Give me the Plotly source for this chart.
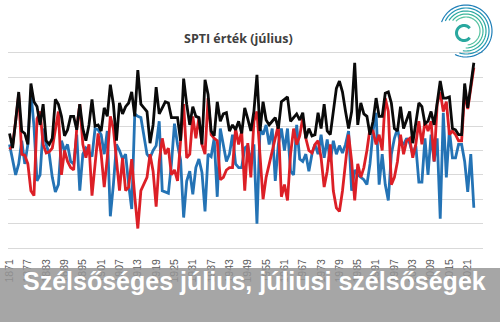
import numpy as np
import plotly.graph_objects as go

years = list(range(1871, 2024))
tick_years = list(range(1871, 2022, 6))

black = [0.7, 0.1, 1.2, 2.4, 0.8, 0.7, 0.25, 2.75, 2.0, 1.8,
         1.05, 1.9, 0.4, 0.25, 0.5, 2.1, 1.9, 1.4, 0.6, 0.85,
         1.4, 1.4, 0.85, 1.9, 0.9, 0.4, 1.05, 2.1, 1.0, 1.05,
         0.8, 1.75, 1.4, 2.7, 1.9, 0.4, 1.95, 1.5, 1.8, 1.95,
         2.4, 1.4, 3.3, 1.9, 1.75, 1.6, 0.3, 1.05, 2.6, 1.5,
         1.75, 2.0, 1.95, 1.35, 1.35, 1.35, 0.4, 2.95, 1.9, 1.05,
         1.8, 1.4, 1.35, 0.25, 2.9, 2.3, 0.8, 0.6, 2.0, 1.2,
         1.5, 1.55, 0.8, 1.05, 0.85, 1.2, 0.7, 1.75, 1.3, 0.8,
         1.6, 3.1, 0.8, 2.0, 1.25, 1.05, 1.2, 1.35, 0.9, 2.0,
         2.1, 2.2, 1.2, 1.35, 1.5, 1.25, 1.55, 0.5, 0.9, 0.6,
         0.65, 1.55, 0.9, 1.9, 0.8, 0.65, 1.6, 2.55, 2.85, 2.4,
         1.6, 0.9, 1.6, 3.6, 1.05, 1.95, 1.5, 1.4, 0.65, 1.2,
         2.15, 1.4, 1.4, 2.35, 2.4, 1.95, 0.9, 0.8, 1.8, 0.9,
         1.25, 1.6, 0.3, 1.05, 1.95, 1.8, 1.1, 1.2, 1.6, 1.05,
         2.0, 2.85, 2.15, 2.15, 2.2, 0.9, 0.85, 0.65, 0.65, 2.75,
         1.75, 2.6, 3.6]

red = [0.05, 0.2, 1.2, 2.3, -0.15, -0.2, -0.55, -1.65, -1.85, 1.3,
       1.6, 0.25, -0.1, -0.05, 0.1, 0.8, 1.6, -1.0, 0.0, -0.45,
       -0.7, -0.8, 0.9, 1.9, 0.25, -0.3, 0.25, -1.85, -0.7, 0.7,
       -0.15, -1.5, -0.3, 1.4, 0.9, -0.3, -1.65, -0.3, -1.65, -1.5,
       -0.35, -1.9, -3.2, -1.65, -1.4, -1.1, -0.15, -0.85, -2.3, -0.45,
       0.5, -0.15, 0.1, -1.0, -0.8, -1.25, 0.4, 1.9, -0.3, -0.15,
       1.4, 0.5, 1.35, 0.25, -0.15, 2.15, 0.65, 0.5, 0.4, -1.2,
       -1.1, -0.8, -0.7, -0.7, 0.9, 0.25, 0.8, -1.65, 0.3, -1.1,
       1.2, 1.6, -0.2, -2.0, -1.1, -0.55, 0.0, 0.5, 1.05, -1.9,
       -1.4, -2.05, -0.15, 0.9, 0.25, 0.6, 1.35, 0.5, 0.0, -0.1,
       0.25, 0.4, -0.3, -1.5, -0.85, 0.25, -1.65, -2.35, -2.5, -1.65,
       -0.55, 0.65, -0.45, -2.05, -0.55, -1.1, -0.7, 0.0, 0.9, 0.8,
       0.25, 0.65, 0.0, 2.15, 1.6, -1.4, -1.1, -0.45, 0.65, -0.15,
       0.4, 0.5, -0.3, 0.25, 1.2, 0.25, 1.2, 0.8, 1.2, -0.45,
       1.9, 2.4, 1.6, 2.0, 0.65, 0.8, 0.65, 0.4, 0.4, 2.4,
       1.7, 2.5, 3.4]

blue = [0.25, -0.45, -1.0, -0.55, 0.4, -0.55, 0.25, 2.4, 1.0, -1.25,
        -1.0, 0.9, 0.25, -0.15, -1.1, -1.7, -1.4, 0.4, 0.0, 0.25,
        -0.45, -0.55, 0.65, -1.65, -0.15, 0.1, -0.05, -0.25, 0.9, 0.85,
        0.65, -0.15, 0.8, -2.7, -1.4, 0.25, 0.0, -0.35, -0.15, -1.4,
        -2.4, 1.5, 1.4, 1.35, 0.5, -0.15, -0.3, 0.0, 0.2, 1.2,
        -1.65, -1.7, -1.75, -0.55, 1.1, 0.25, -0.4, -2.75, -1.25, -0.85,
        -1.8, -0.7, -0.35, -0.9, -2.5, -0.15, -0.25, 0.5, -1.9, 0.9,
        0.25, -0.45, -0.15, 0.65, -0.55, -0.7, -0.7, 0.1, 0.2, -0.45,
        0.25, -3.0, 0.9, 0.65, 1.05, 0.25, 0.9, -1.25, 0.25, 0.9,
        0.0, 0.9, -0.85, -1.0, 1.05, -0.35, -0.45, -0.15, -0.85, -0.15,
        0.25, -0.15, 0.65, -0.3, 0.45, -0.45, 0.4, -0.15, 0.2, -0.1,
        0.25, 0.8, -1.65, -0.8, -1.0, -1.1, -1.2, -1.4, -0.55, 0.8,
        1.55, -1.4, -0.15, -1.4, -2.05, -0.15, 0.5, 0.9, 0.25, 0.25,
        0.5, 0.3, -0.15, 0.2, -1.3, -1.3, 0.5, -1.0, 0.65, -0.45,
        0.5, -2.8, 1.55, -1.1, 0.85, -0.3, -0.3, 0.25, 0.25, -0.45,
        -1.7, -0.15, -2.35]

W, H = 500, 330


def px2paper(x, y):
    return x / W, 1 - y / H


fig = go.Figure()
fig.add_trace(go.Scatter(x=years, y=blue, mode="lines",
                         line=dict(color="#2473b5", width=2.8), hoverinfo="skip"))
fig.add_trace(go.Scatter(x=years, y=red, mode="lines",
                         line=dict(color="#dc1f26", width=2.8), hoverinfo="skip"))
fig.add_trace(go.Scatter(x=years, y=black, mode="lines",
                         line=dict(color="#0a0a0a", width=2.8), hoverinfo="skip"))

x0px, x1px, ytop, ybot = 8, 483, 53, 248
fig.update_layout(
    width=W, height=H, margin=dict(l=0, r=0, t=0, b=0, autoexpand=False),
    paper_bgcolor="white", plot_bgcolor="white", showlegend=False,
    xaxis=dict(domain=[x0px / W, x1px / W], range=[1870.5, 2026],
               tickmode="array", tickvals=tick_years,
               ticktext=[str(t) for t in tick_years], tickangle=-90,
               ticks="outside", ticklen=6, tickcolor="rgba(0,0,0,0)",
               tickfont=dict(family="Liberation Sans", size=10.5, color="#595959"),
               showgrid=False, showline=True, mirror=True,
               linecolor="#d9d9d9", linewidth=1, zeroline=False, automargin=False),
    yaxis=dict(domain=[(H - ybot) / H, (H - ytop) / H], range=[-4, 4], dtick=1,
               showticklabels=False, gridcolor="#d9d9d9", gridwidth=1,
               zeroline=False, showline=False, automargin=False),
)

# title
tx, ty = px2paper(238, 28)
fig.add_annotation(text="<b>SPTI érték (július)</b>", xref="paper", yref="paper",
                   x=tx, y=ty, showarrow=False,
                   font=dict(family="Open Sans", size=12.5, color="#404040"))


def poly_path(pts_x, pts_y):
    segs = []
    for a, b in zip(pts_x, pts_y):
        u, v = px2paper(a, b)
        segs.append(f"{u:.5f},{v:.5f}")
    return "M " + " L ".join(segs)


# logo (decorative swirl)
cx, cy = 466, 31
logo_cols = ["#1f7fb8", "#2296b5", "#2aa89f", "#3cb79c", "#55c2a0"]
for k, r in enumerate([26, 23, 20, 17, 14]):
    a0 = np.deg2rad(160 - k * 6)
    a1 = np.deg2rad(-115 + k * 8)
    th = np.linspace(a0, a1, 60)
    fig.add_shape(type="path", path=poly_path(cx + r * np.cos(th), cy - r * np.sin(th)),
                  xref="paper", yref="paper",
                  line=dict(color=logo_cols[k], width=1.2), layer="above")
th = np.linspace(np.deg2rad(40), np.deg2rad(320), 40)
fig.add_shape(type="path", path=poly_path(cx - 2 + 7.5 * np.cos(th), cy + 2 - 7.5 * np.sin(th)),
              xref="paper", yref="paper",
              line=dict(color="#2aa89f", width=3), layer="above")

# banner
bx0, by0 = px2paper(0, 322)
bx1, by1 = px2paper(W, 268)
fig.add_shape(type="rect", xref="paper", yref="paper", x0=bx0, x1=bx1, y0=by0, y1=by1,
              fillcolor="rgba(150,150,150,0.85)", line=dict(width=0), layer="above")
ax, ay = px2paper(254, 297)
fig.add_annotation(text="<b>Szélsőséges július, júliusi szélsőségek</b>",
                   xref="paper", yref="paper", x=ax, y=ay, showarrow=False,
                   font=dict(family="Liberation Sans", size=25, color="white"))

fig.write_html("out.html")
